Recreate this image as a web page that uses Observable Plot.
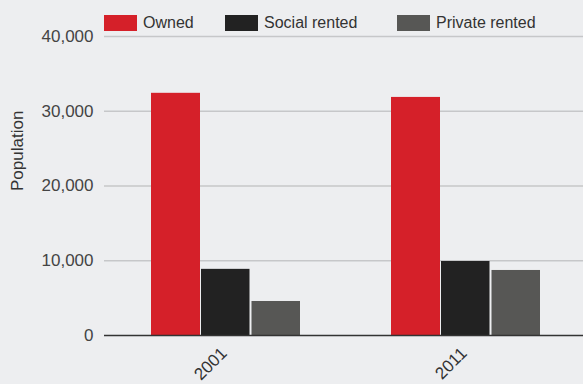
<!DOCTYPE html>
<html>
<head>
<meta charset="utf-8">
<script src="https://cdn.jsdelivr.net/npm/d3@7"></script>
<script src="https://cdn.jsdelivr.net/npm/@observablehq/plot@0.6"></script>
<style>
  html, body { margin: 0; padding: 0; background: #edeef0; }
  body { width: 583px; height: 384px; overflow: hidden; font-family: "Liberation Sans", Arial, sans-serif; }
  #legend { position: relative; height: 30px; width: 583px; }
  .item { position: absolute; top: 14px; display: flex; align-items: center; font-size: 16px; line-height: 18px; color: #333; white-space: nowrap; }
  .sw { width: 33px; height: 16px; margin-right: 6px; flex: none; }
</style>
</head>
<body>
<div id="legend"></div>
<div id="chart"></div>
<script>
const years = ["2001", "2011"];
const tenures = ["Owned", "Social rented", "Private rented"];
const colors = ["#d52029", "#222222", "#575755"];
const owned = [32400, 31850];
const socialRented = [8850, 9900];
const privateRented = [4550, 8700];
const yTicks = [0, 10000, 20000, 30000, 40000];

const series = [owned, socialRented, privateRented];
const data = [];
years.forEach((yr, i) => tenures.forEach((t, j) => data.push({year: yr, tenure: t, value: series[j][i]})));

const legendLeft = [104, 225, 397];
const legend = document.getElementById("legend");
tenures.forEach((t, j) => {
  const it = document.createElement("div");
  it.className = "item";
  it.style.left = legendLeft[j] + "px";
  it.innerHTML = `<div class="sw" style="background:${colors[j]}"></div><span>${t}</span>`;
  legend.appendChild(it);
});

const fmt = d3.format(",");
// each year band is split into three equal sub-bars via insets (bandwidth 150)
const insets = [[0, 100], [50, 50.5], [100.5, 0]];
const barMarks = tenures.map((t, j) =>
  Plot.barY(data.filter(d => d.tenure === t), {
    x: "year", y: "value", fill: "tenure",
    insetLeft: insets[j][0], insetRight: insets[j][1]
  })
);

const chart = Plot.plot({
  width: 583,
  height: 354,
  marginLeft: 104,
  marginRight: 0,
  marginTop: 6,
  marginBottom: 49,
  style: {background: "transparent", fontFamily: "'Liberation Sans', Arial, sans-serif", fontSize: "17px", color: "#444", overflow: "visible"},
  y: {domain: [0, 40000]},
  x: {domain: years, paddingInner: 0.378, paddingOuter: 0.183, align: 0.523},
  color: {domain: tenures, range: colors},
  marks: [
    Plot.gridY(yTicks.slice(1), {stroke: "#c6c7c9", strokeOpacity: 1, strokeWidth: 1.3}),
    Plot.axisY(yTicks, {tickSize: 0, tickPadding: 11, tickFormat: fmt, label: null, fill: "#444"}),
    Plot.axisX({tickSize: 0, tickRotate: -45, tickPadding: 15, dx: -2, label: null, fill: "#333"}),
    ...barMarks,
    Plot.ruleY([0], {stroke: "#333", strokeWidth: 1.3}),
    Plot.text(["Population"], {frameAnchor: "left", text: d => d, rotate: -90, dx: -87, dy: 5, fill: "#333", fontSize: 17})
  ]
});
document.getElementById("chart").appendChild(chart);
</script>
</body>
</html>
